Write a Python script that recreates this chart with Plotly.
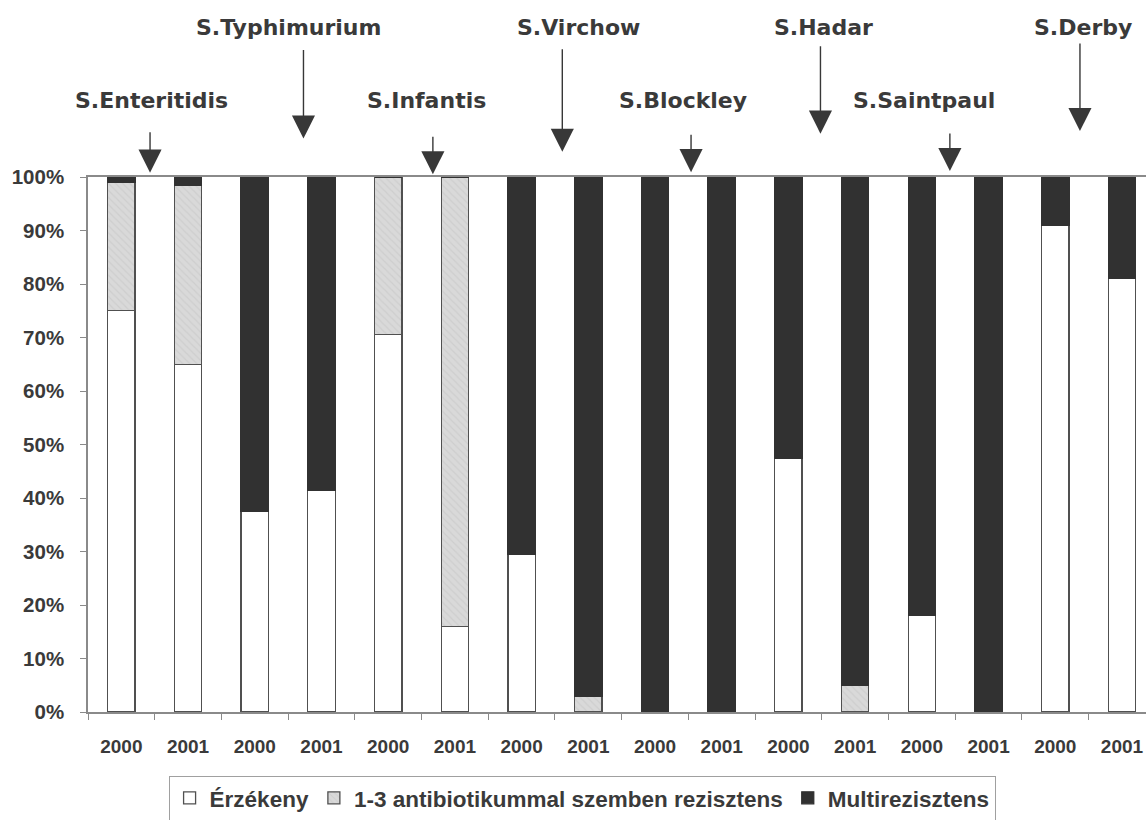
import plotly.graph_objects as go

years = ["2000", "2001"] * 8
serotypes = ["S.Enteritidis", "S.Typhimurium", "S.Infantis", "S.Virchow",
             "S.Blockley", "S.Hadar", "S.Saintpaul", "S.Derby"]

erzekeny = [75, 65, 37.5, 41.5, 70.5, 16, 29.5, 0, 0, 0, 47.5, 0, 18, 0, 91, 81]
rezisztens_1_3 = [24, 33.5, 0, 0, 29.5, 84, 0, 3, 0, 0, 0, 5, 0, 0, 0, 0]
multi = [1, 1.5, 62.5, 58.5, 0, 0, 70.5, 97, 100, 100, 52.5, 95, 82, 100, 9, 19]

y_ticks = list(range(0, 101, 10))
y_ticktext = [f"{v}%" for v in y_ticks]

xs = list(range(len(years)))
FONT = "Liberation Sans, Arial, sans-serif"
TITLE_FONT = "DejaVu Sans, sans-serif"
TXT = "#3a3a3a"

fig = go.Figure()
fig.add_bar(x=xs, y=erzekeny, name="Érzékeny",
            marker=dict(color="white", line=dict(color="#505050", width=1.3)))
fig.add_bar(x=xs, y=rezisztens_1_3, name="1-3 antibiotikummal szemben rezisztens",
            marker=dict(color="#d6d6d6", line=dict(color="#505050", width=1.3),
                        pattern=dict(shape="\\", fgcolor="#c4c4c4", bgcolor="#d9d9d9",
                                     size=5, solidity=0.25)))
fig.add_bar(x=xs, y=multi, name="Multirezisztens",
            marker=dict(color="#313131", line=dict(color="#313131", width=1.3)))

# annotation placement: (x data, label y paper, arrow tip y paper, arrow length px)
label_pos = [
    (0.43, 1.143, 1.008, 42),
    (2.73, 1.280, 1.072, 90),
    (4.67, 1.143, 1.005, 39),
    (6.61, 1.280, 1.047, 104),
    (8.54, 1.143, 1.009, 39),
    (10.48, 1.280, 1.081, 89),
    (12.42, 1.143, 1.011, 39),
    (14.37, 1.280, 1.086, 89),
]
label_dx = [0.02, -0.23, -0.09, 0.25, -0.12, 0.04, -0.39, 0.04]

for name, (xa, ly, ty, alen), dx in zip(serotypes, label_pos, label_dx):
    fig.add_annotation(x=xa + dx, y=ly, xref="x", yref="paper", text=name,
                       showarrow=False, yanchor="middle",
                       font=dict(family=TITLE_FONT, size=22, color=TXT, weight="bold"))
    fig.add_annotation(x=xa, y=ty, xref="x", yref="paper", text="",
                       showarrow=True, ax=0, ay=-alen, arrowhead=2,
                       arrowsize=3.3, arrowwidth=1.4, arrowcolor="#383838")

fig.update_layout(
    barmode="stack",
    bargap=0.59,
    width=1146, height=820,
    margin=dict(l=88, r=0, t=177, b=108, autoexpand=False),
    paper_bgcolor="white", plot_bgcolor="white",
    font=dict(family=FONT, color=TXT),
    showlegend=True,
    legend=dict(orientation="h", x=0.467, xanchor="center",
                yref="container", y=0.054, yanchor="top",
                bordercolor="#a0a0a0", borderwidth=1,
                font=dict(family=FONT, size=22.5, color=TXT, weight="bold"),
                itemwidth=30, traceorder="normal"),
    xaxis=dict(range=[-0.5, 15.36], tickmode="array", tickvals=xs, ticktext=years,
               ticks="", showline=True, linecolor="#8a8a8a", linewidth=1.5,
               mirror=True, showgrid=False, zeroline=False,
               tickfont=dict(family=FONT, size=19, color=TXT, weight="bold"),
               ticklabelstandoff=16,
               minor=dict(tickmode="linear", tick0=0.5, dtick=1, ticks="outside",
                          ticklen=6, tickcolor="#8a8a8a", tickwidth=1, showgrid=False)),
    yaxis=dict(range=[0, 100], tickmode="array", tickvals=y_ticks, ticktext=y_ticktext,
               ticks="outside", ticklen=6, tickcolor="#8a8a8a", showline=True,
               linecolor="#8a8a8a", linewidth=1.5, showgrid=False, zeroline=False,
               tickfont=dict(family=FONT, size=20.5, color=TXT, weight="bold"),
               ticklabelstandoff=12),
)

fig.write_html("out.html")
